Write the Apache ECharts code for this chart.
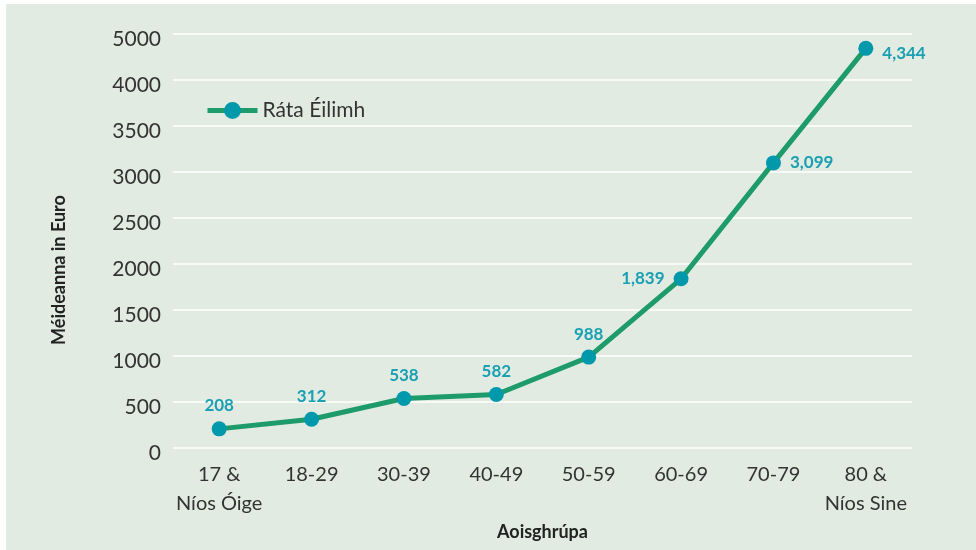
<!DOCTYPE html>
<html>
<head>
<meta charset="utf-8">
<script src="https://cdn.jsdelivr.net/npm/echarts@6/dist/echarts.min.js"></script>
<style>
html,body{margin:0;padding:0;background:#ffffff;}
#chart{width:976px;height:550px;}
</style>
</head>
<body>
<div id="chart"></div>
<script>
var categories = ['17 &\nNíos Óige', '18-29', '30-39', '40-49', '50-59', '60-69', '70-79', '80 &\nNíos Sine'];
var seriesName = 'Ráta Éilimh';
var values = [208, 312, 538, 582, 988, 1839, 3099, 4344];
var labelTexts = ['208', '312', '538', '582', '988', '1,839', '3,099', '4,344'];
var labelPositions = ['top', 'top', 'top', 'top', 'top', 'left', 'right', 'right'];
var tickValues = [0, 500, 1000, 1500, 2000, 2500, 3000, 3500, 4000, 4500];
var tickLabels = ['0', '500', '1000', '1500', '2000', '2500', '3000', '3500', '4000', '5000'];

var FONT = 'Lato, "Open Sans", sans-serif';
var chart = echarts.init(document.getElementById('chart'), null, {renderer: 'canvas'});

var data = values.map(function (v, i) {
  return {
    value: v,
    label: {
      show: true,
      position: labelPositions[i],
      distance: labelPositions[i] === 'top' ? 7 : 9,
      offset: i === 7 ? [0, 5] : [0, 0],
      formatter: function () { return labelTexts[i]; }
    }
  };
});

chart.setOption({
  animation: false,
  backgroundColor: 'transparent',
  graphic: [
    {type: 'rect', left: 6, top: 4, shape: {width: 970, height: 546}, style: {fill: '#e1ebe2'}, z: -10, silent: true},
    {type: 'text', x: 59, y: 270, rotation: Math.PI / 2,
     style: {text: 'Méideanna in Euro', font: 'bold 18px ' + FONT, fill: '#222', textAlign: 'center', textVerticalAlign: 'middle'},
     z: 10, silent: true}
  ],
  grid: {left: 173, right: 64, top: 34, bottom: 102},
  legend: {
    show: true,
    left: 200,
    top: 95,
    itemWidth: 50,
    itemHeight: 21,
    itemGap: 12,
    data: [seriesName],
    lineStyle: {width: 5},
    textStyle: {fontFamily: FONT, fontSize: 21, color: '#333'}
  },
  xAxis: {
    type: 'category',
    data: categories,
    boundaryGap: true,
    axisLine: {show: false},
    axisTick: {show: false},
    axisLabel: {interval: 0, fontFamily: FONT, fontSize: 20, color: '#333', lineHeight: 29, margin: 12},
    name: 'Aoisghrúpa',
    nameLocation: 'middle',
    nameGap: 73,
    nameTextStyle: {fontFamily: FONT, fontSize: 18, fontWeight: 'bold', color: '#222'}
  },
  yAxis: {
    type: 'value',
    min: 0,
    max: 4500,
    interval: 500,
    axisLine: {show: false},
    axisTick: {show: false},
    splitLine: {lineStyle: {color: '#ffffff', width: 1.5}},
    axisLabel: {
      fontFamily: FONT, fontSize: 21, color: '#333', margin: 12,
      verticalAlign: 'top', lineHeight: 10,
      formatter: function (v) {
        var i = tickValues.indexOf(v);
        return i >= 0 ? tickLabels[i] : '';
      }
    }
  },
  series: [{
    name: seriesName,
    type: 'line',
    data: data,
    symbol: 'circle',
    symbolSize: 15,
    lineStyle: {color: '#1e9b6b', width: 5},
    itemStyle: {color: '#0099ab'},
    label: {fontFamily: FONT, fontSize: 17, fontWeight: 'bold', color: '#1aa0b2'},
    z: 3
  }]
});
</script>
</body>
</html>
